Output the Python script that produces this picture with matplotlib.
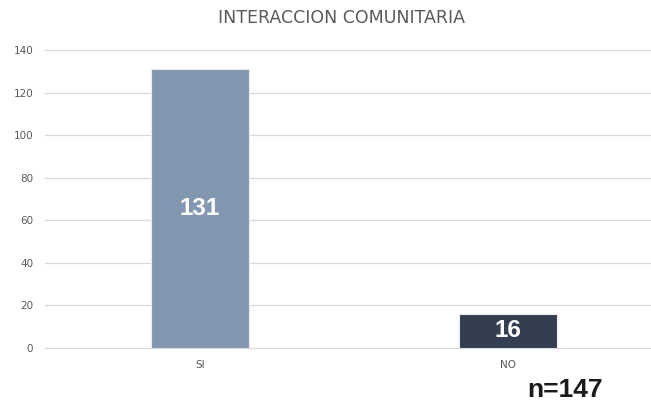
import matplotlib
matplotlib.use("Agg")
import matplotlib.pyplot as plt

# Data
categories = ["SI", "NO"]
values = [131, 16]
bar_colors = ["#8497B0", "#333F50"]
total_label = "n=147"
title = "INTERACCION COMUNITARIA"

fig = plt.figure(figsize=(6.51, 4.03), dpi=100)
ax = fig.add_axes([45 / 651, 1 - 348 / 403, 1 - 45 / 651, (348 - 50) / 403])

x = range(len(categories))
bars = ax.bar(x, values, width=0.315, color=bar_colors, edgecolor="#E8ECF2", linewidth=0.8, zorder=3)

# value labels in the middle of each bar
for b, v in zip(bars, values):
    ax.text(b.get_x() + b.get_width() / 2, v / 2, str(v), ha="center", va="center",
            color="white", fontsize=17.5, fontweight="bold", family="Liberation Sans")

ax.set_ylim(0, 140)
ax.set_yticks(range(0, 141, 20))
ax.set_xlim(-(200 - 45) / 308, (651 - 200) / 308)
ax.set_xticks(list(x))
ax.set_xticklabels(categories)
ax.yaxis.grid(True, color="#D9D9D9", linewidth=0.9, zorder=0)
for line in ax.yaxis.get_gridlines():
    line.set_clip_on(False)
for s in ax.spines.values():
    s.set_visible(False)
ax.tick_params(axis="both", length=0, labelsize=7.5, labelcolor="#595959")
ax.tick_params(axis="y", pad=8.5)
ax.tick_params(axis="x", pad=9)

fig.text(341 / 651, 1 - 18 / 403, title, ha="center", va="center", fontsize=12.5,
         color="#595959")
fig.text(565 / 651, 1 - 390 / 403, total_label, ha="center", va="center", fontsize=19,
         fontweight="bold", color="#1a1a1a", family="Liberation Sans")

fig.savefig("out.png", dpi=100)
